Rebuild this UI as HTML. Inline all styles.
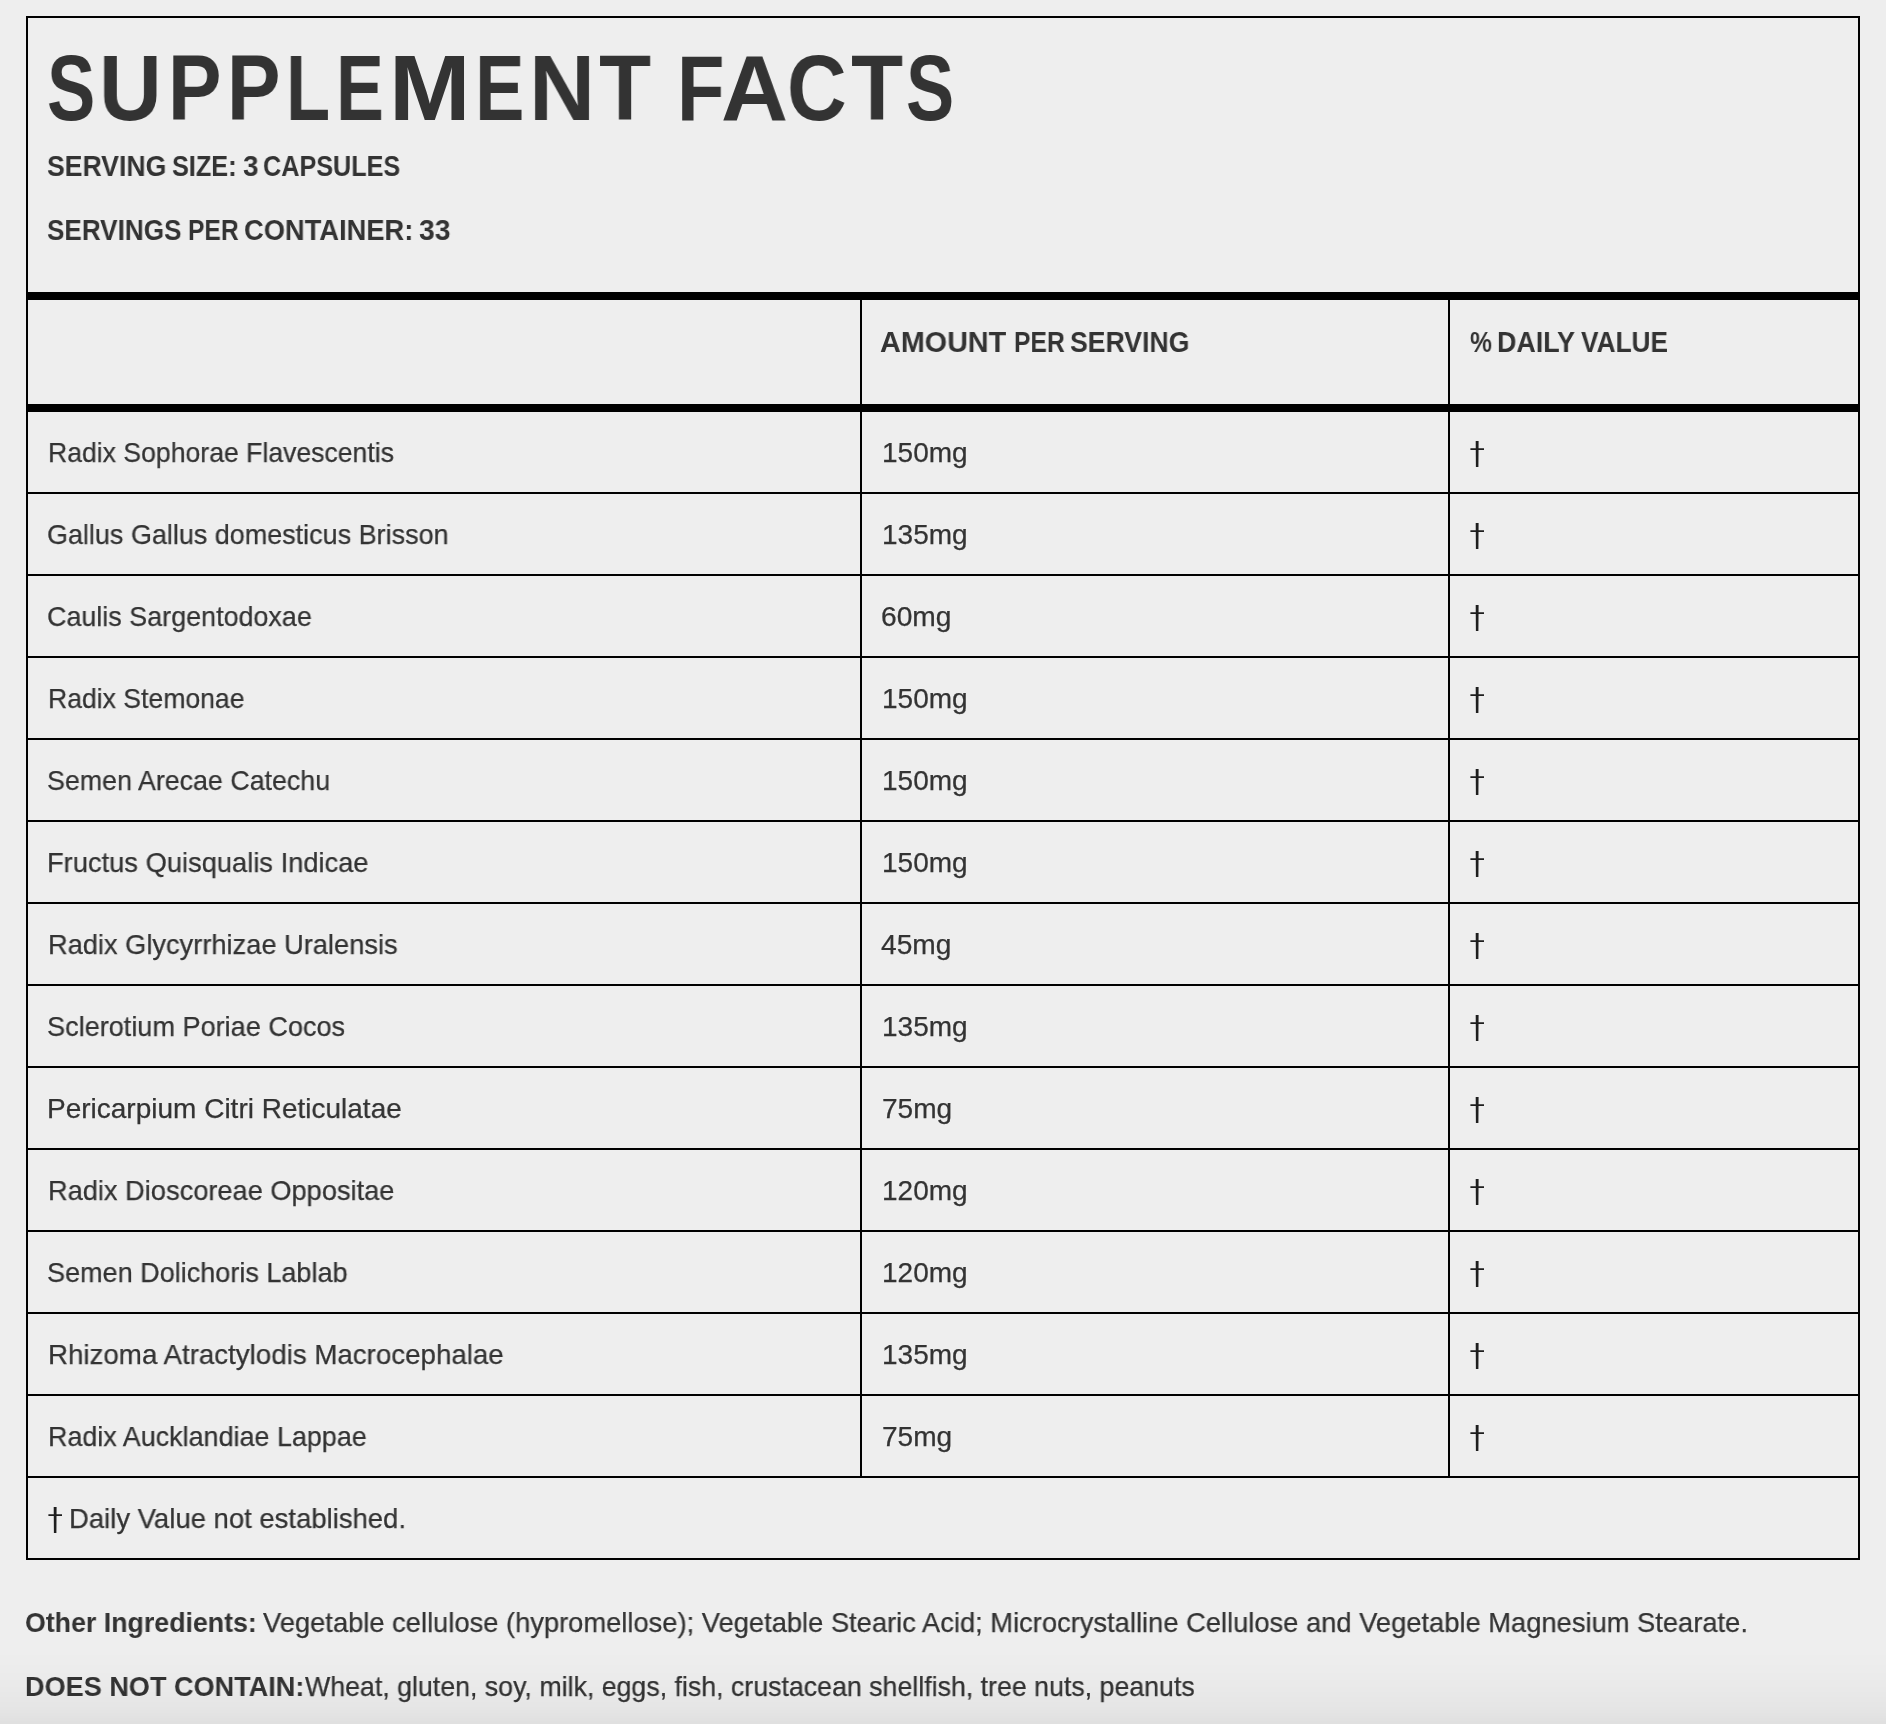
<!DOCTYPE html>
<html><head><meta charset="utf-8"><title>Supplement Facts</title>
<style>
html,body{margin:0;padding:0}
body{width:1886px;height:1724px;background:#eeeeee;position:relative;overflow:hidden;font-family:"Liberation Sans",sans-serif;color:#333333}
.t{position:absolute;white-space:nowrap;transform-origin:0 0;will-change:transform}
.k{position:absolute;background:#000}
.shade{position:absolute;left:0;top:1650px;width:1886px;height:74px;background:linear-gradient(to bottom,rgba(0,0,0,0) 0px,rgba(0,0,0,0.008) 20px,rgba(0,0,0,0.02) 40px,rgba(0,0,0,0.033) 55px,rgba(0,0,0,0.045) 65px,rgba(0,0,0,0.058) 74px)}
</style></head><body>
<div class="k" style="left:26px;top:16px;width:1834px;height:2px"></div>
<div class="k" style="left:26px;top:1558px;width:1834px;height:2px"></div>
<div class="k" style="left:26px;top:16px;width:2px;height:1544px"></div>
<div class="k" style="left:1858px;top:16px;width:2px;height:1544px"></div>
<div class="k" style="left:26px;top:292px;width:1834px;height:8px"></div>
<div class="k" style="left:26px;top:404px;width:1834px;height:8px"></div>
<div class="k" style="left:26px;top:492px;width:1834px;height:2px"></div>
<div class="k" style="left:26px;top:574px;width:1834px;height:2px"></div>
<div class="k" style="left:26px;top:656px;width:1834px;height:2px"></div>
<div class="k" style="left:26px;top:738px;width:1834px;height:2px"></div>
<div class="k" style="left:26px;top:820px;width:1834px;height:2px"></div>
<div class="k" style="left:26px;top:902px;width:1834px;height:2px"></div>
<div class="k" style="left:26px;top:984px;width:1834px;height:2px"></div>
<div class="k" style="left:26px;top:1066px;width:1834px;height:2px"></div>
<div class="k" style="left:26px;top:1148px;width:1834px;height:2px"></div>
<div class="k" style="left:26px;top:1230px;width:1834px;height:2px"></div>
<div class="k" style="left:26px;top:1312px;width:1834px;height:2px"></div>
<div class="k" style="left:26px;top:1394px;width:1834px;height:2px"></div>
<div class="k" style="left:26px;top:1476px;width:1834px;height:2px"></div>
<div class="k" style="left:860px;top:300px;width:2px;height:1178px"></div>
<div class="k" style="left:1448px;top:300px;width:2px;height:1178px"></div>
<div class="t" style="left:46.60px;top:42.00px;font-size:93.00px;line-height:93.00px;font-weight:700;transform:scaleX(0.7789)">S</div>
<div class="t" style="left:99.12px;top:42.00px;font-size:93.00px;line-height:93.00px;font-weight:700;transform:scaleX(0.9338)">U</div>
<div class="t" style="left:168.14px;top:42.00px;font-size:93.00px;line-height:93.00px;font-weight:700;transform:scaleX(0.8614)">P</div>
<div class="t" style="left:226.64px;top:42.00px;font-size:93.00px;line-height:93.00px;font-weight:700;transform:scaleX(0.8614)">P</div>
<div class="t" style="left:285.63px;top:42.00px;font-size:93.00px;line-height:93.00px;font-weight:700;transform:scaleX(0.7740)">L</div>
<div class="t" style="left:335.65px;top:42.00px;font-size:93.00px;line-height:93.00px;font-weight:700;transform:scaleX(0.7709)">E</div>
<div class="t" style="left:388.97px;top:42.00px;font-size:93.00px;line-height:93.00px;font-weight:700;transform:scaleX(1.0524)">M</div>
<div class="t" style="left:475.40px;top:42.00px;font-size:93.00px;line-height:93.00px;font-weight:700;transform:scaleX(0.7972)">E</div>
<div class="t" style="left:528.66px;top:42.00px;font-size:93.00px;line-height:93.00px;font-weight:700;transform:scaleX(0.9838)">N</div>
<div class="t" style="left:599.22px;top:42.00px;font-size:93.00px;line-height:93.00px;font-weight:700;transform:scaleX(0.9165)">T</div>
<div class="t" style="left:677.48px;top:42.00px;font-size:93.00px;line-height:93.00px;font-weight:700;transform:scaleX(0.8359)">F</div>
<div class="t" style="left:721.06px;top:42.00px;font-size:93.00px;line-height:93.00px;font-weight:700;transform:scaleX(0.9964)">A</div>
<div class="t" style="left:786.98px;top:42.00px;font-size:93.00px;line-height:93.00px;font-weight:700;transform:scaleX(0.8876)">C</div>
<div class="t" style="left:850.52px;top:42.00px;font-size:93.00px;line-height:93.00px;font-weight:700;transform:scaleX(0.9165)">T</div>
<div class="t" style="left:906.11px;top:42.00px;font-size:93.00px;line-height:93.00px;font-weight:700;transform:scaleX(0.7772)">S</div>
<div class="t" style="left:47.31px;top:152.00px;font-size:29.00px;line-height:29.00px;font-weight:700;transform:scaleX(0.9177)">SERVING</div>
<div class="t" style="left:172.44px;top:152.00px;font-size:29.00px;line-height:29.00px;font-weight:700;transform:scaleX(0.8711)">SIZE:</div>
<div class="t" style="left:242.50px;top:152.00px;font-size:29.00px;line-height:29.00px;font-weight:700;transform:scaleX(0.9614)">3</div>
<div class="t" style="left:263.34px;top:152.00px;font-size:29.00px;line-height:29.00px;font-weight:700;transform:scaleX(0.8692)">CAPSULES</div>
<div class="t" style="left:47.32px;top:216.00px;font-size:29.00px;line-height:29.00px;font-weight:700;transform:scaleX(0.9003)">SERVINGS</div>
<div class="t" style="left:187.86px;top:216.00px;font-size:29.00px;line-height:29.00px;font-weight:700;transform:scaleX(0.8497)">PER</div>
<div class="t" style="left:244.09px;top:216.00px;font-size:29.00px;line-height:29.00px;font-weight:700;transform:scaleX(0.9411)">CONTAINER:</div>
<div class="t" style="left:419.20px;top:216.00px;font-size:29.00px;line-height:29.00px;font-weight:700;transform:scaleX(0.9731)">33</div>
<div class="t" style="left:880.47px;top:328.00px;font-size:29.00px;line-height:29.00px;font-weight:700;transform:scaleX(0.9920)">AMOUNT</div>
<div class="t" style="left:1013.85px;top:328.00px;font-size:29.00px;line-height:29.00px;font-weight:700;transform:scaleX(0.8514)">PER</div>
<div class="t" style="left:1070.40px;top:328.00px;font-size:29.00px;line-height:29.00px;font-weight:700;transform:scaleX(0.9184)">SERVING</div>
<div class="t" style="left:1469.61px;top:328.00px;font-size:29.00px;line-height:29.00px;font-weight:700;transform:scaleX(0.8508)">%</div>
<div class="t" style="left:1497.15px;top:328.00px;font-size:29.00px;line-height:29.00px;font-weight:700;transform:scaleX(0.9241)">DAILY</div>
<div class="t" style="left:1581.47px;top:328.00px;font-size:29.00px;line-height:29.00px;font-weight:700;transform:scaleX(0.9052)">VALUE</div>
<div class="t" style="left:47.58px;top:439.00px;font-size:28.00px;line-height:28.00px;font-weight:400;transform:scaleX(0.9499);-webkit-text-stroke:0.25px #333333">Radix Sophorae Flavescentis</div>
<div class="t" style="left:882.42px;top:439.00px;font-size:28.00px;line-height:28.00px;font-weight:400;transform:scaleX(0.9996);-webkit-text-stroke:0.25px #333333">150mg</div>
<div class="t" style="left:47.25px;top:521.00px;font-size:28.00px;line-height:28.00px;font-weight:400;transform:scaleX(0.9627);-webkit-text-stroke:0.25px #333333">Gallus Gallus domesticus Brisson</div>
<div class="t" style="left:882.42px;top:521.00px;font-size:28.00px;line-height:28.00px;font-weight:400;transform:scaleX(0.9996);-webkit-text-stroke:0.25px #333333">135mg</div>
<div class="t" style="left:47.22px;top:603.00px;font-size:28.00px;line-height:28.00px;font-weight:400;transform:scaleX(0.9612);-webkit-text-stroke:0.25px #333333">Caulis Sargentodoxae</div>
<div class="t" style="left:881.20px;top:603.00px;font-size:28.00px;line-height:28.00px;font-weight:400;transform:scaleX(1.0064);-webkit-text-stroke:0.25px #333333">60mg</div>
<div class="t" style="left:47.58px;top:685.00px;font-size:28.00px;line-height:28.00px;font-weight:400;transform:scaleX(0.9493);-webkit-text-stroke:0.25px #333333">Radix Stemonae</div>
<div class="t" style="left:882.42px;top:685.00px;font-size:28.00px;line-height:28.00px;font-weight:400;transform:scaleX(0.9996);-webkit-text-stroke:0.25px #333333">150mg</div>
<div class="t" style="left:46.90px;top:767.00px;font-size:28.00px;line-height:28.00px;font-weight:400;transform:scaleX(0.9574);-webkit-text-stroke:0.25px #333333">Semen Arecae Catechu</div>
<div class="t" style="left:882.42px;top:767.00px;font-size:28.00px;line-height:28.00px;font-weight:400;transform:scaleX(0.9996);-webkit-text-stroke:0.25px #333333">150mg</div>
<div class="t" style="left:47.13px;top:849.00px;font-size:28.00px;line-height:28.00px;font-weight:400;transform:scaleX(0.9746);-webkit-text-stroke:0.25px #333333">Fructus Quisqualis Indicae</div>
<div class="t" style="left:882.42px;top:849.00px;font-size:28.00px;line-height:28.00px;font-weight:400;transform:scaleX(0.9996);-webkit-text-stroke:0.25px #333333">150mg</div>
<div class="t" style="left:47.54px;top:931.00px;font-size:28.00px;line-height:28.00px;font-weight:400;transform:scaleX(0.9726);-webkit-text-stroke:0.25px #333333">Radix Glycyrrhizae Uralensis</div>
<div class="t" style="left:881.30px;top:931.00px;font-size:28.00px;line-height:28.00px;font-weight:400;transform:scaleX(1.0051);-webkit-text-stroke:0.25px #333333">45mg</div>
<div class="t" style="left:46.89px;top:1013.00px;font-size:28.00px;line-height:28.00px;font-weight:400;transform:scaleX(0.9676);-webkit-text-stroke:0.25px #333333">Sclerotium Poriae Cocos</div>
<div class="t" style="left:882.42px;top:1013.00px;font-size:28.00px;line-height:28.00px;font-weight:400;transform:scaleX(0.9996);-webkit-text-stroke:0.25px #333333">135mg</div>
<div class="t" style="left:47.29px;top:1095.00px;font-size:28.00px;line-height:28.00px;font-weight:400;transform:scaleX(0.9997);-webkit-text-stroke:0.25px #333333">Pericarpium Citri Reticulatae</div>
<div class="t" style="left:881.52px;top:1095.00px;font-size:28.00px;line-height:28.00px;font-weight:400;transform:scaleX(1.0019);-webkit-text-stroke:0.25px #333333">75mg</div>
<div class="t" style="left:47.54px;top:1177.00px;font-size:28.00px;line-height:28.00px;font-weight:400;transform:scaleX(0.9720);-webkit-text-stroke:0.25px #333333">Radix Dioscoreae Oppositae</div>
<div class="t" style="left:882.42px;top:1177.00px;font-size:28.00px;line-height:28.00px;font-weight:400;transform:scaleX(0.9996);-webkit-text-stroke:0.25px #333333">120mg</div>
<div class="t" style="left:46.89px;top:1259.00px;font-size:28.00px;line-height:28.00px;font-weight:400;transform:scaleX(0.9654);-webkit-text-stroke:0.25px #333333">Semen Dolichoris Lablab</div>
<div class="t" style="left:882.42px;top:1259.00px;font-size:28.00px;line-height:28.00px;font-weight:400;transform:scaleX(0.9996);-webkit-text-stroke:0.25px #333333">120mg</div>
<div class="t" style="left:47.51px;top:1341.00px;font-size:28.00px;line-height:28.00px;font-weight:400;transform:scaleX(0.9893);-webkit-text-stroke:0.25px #333333">Rhizoma Atractylodis Macrocephalae</div>
<div class="t" style="left:882.42px;top:1341.00px;font-size:28.00px;line-height:28.00px;font-weight:400;transform:scaleX(0.9996);-webkit-text-stroke:0.25px #333333">135mg</div>
<div class="t" style="left:47.56px;top:1423.00px;font-size:28.00px;line-height:28.00px;font-weight:400;transform:scaleX(0.9613);-webkit-text-stroke:0.25px #333333">Radix Aucklandiae Lappae</div>
<div class="t" style="left:881.52px;top:1423.00px;font-size:28.00px;line-height:28.00px;font-weight:400;transform:scaleX(1.0019);-webkit-text-stroke:0.25px #333333">75mg</div>
<div class="t" style="left:68.92px;top:1505.00px;font-size:28.00px;line-height:28.00px;font-weight:400;transform:scaleX(0.9812);-webkit-text-stroke:0.25px #333333">Daily Value not established.</div>
<div class="t" style="left:25.00px;top:1609.00px;font-size:28.00px;line-height:28.00px;font-weight:700;transform:scaleX(0.9553)">Other Ingredients:</div>
<div class="t" style="left:262.60px;top:1609.00px;font-size:28.00px;line-height:28.00px;font-weight:400;transform:scaleX(0.9755);-webkit-text-stroke:0.25px #333333">Vegetable cellulose (hypromellose); Vegetable Stearic Acid; Microcrystalline Cellulose and Vegetable Magnesium Stearate.</div>
<div class="t" style="left:24.62px;top:1673.00px;font-size:28.00px;line-height:28.00px;font-weight:700;transform:scaleX(0.9672)">DOES NOT CONTAIN:</div>
<div class="t" style="left:304.59px;top:1673.00px;font-size:28.00px;line-height:28.00px;font-weight:400;transform:scaleX(0.9549);-webkit-text-stroke:0.25px #333333">Wheat, gluten, soy, milk, eggs, fish, crustacean shellfish, tree nuts, peanuts</div>
<svg style="position:absolute;left:1468px;top:441.00px" width="20" height="30" viewBox="0 0 20 30"><path d="M7.7 0H10.6L10.4 26H7.9Z M2.4 7.2H16V9H2.4Z" fill="#1e1e1e"/></svg>
<svg style="position:absolute;left:1468px;top:523.00px" width="20" height="30" viewBox="0 0 20 30"><path d="M7.7 0H10.6L10.4 26H7.9Z M2.4 7.2H16V9H2.4Z" fill="#1e1e1e"/></svg>
<svg style="position:absolute;left:1468px;top:605.00px" width="20" height="30" viewBox="0 0 20 30"><path d="M7.7 0H10.6L10.4 26H7.9Z M2.4 7.2H16V9H2.4Z" fill="#1e1e1e"/></svg>
<svg style="position:absolute;left:1468px;top:687.00px" width="20" height="30" viewBox="0 0 20 30"><path d="M7.7 0H10.6L10.4 26H7.9Z M2.4 7.2H16V9H2.4Z" fill="#1e1e1e"/></svg>
<svg style="position:absolute;left:1468px;top:769.00px" width="20" height="30" viewBox="0 0 20 30"><path d="M7.7 0H10.6L10.4 26H7.9Z M2.4 7.2H16V9H2.4Z" fill="#1e1e1e"/></svg>
<svg style="position:absolute;left:1468px;top:851.00px" width="20" height="30" viewBox="0 0 20 30"><path d="M7.7 0H10.6L10.4 26H7.9Z M2.4 7.2H16V9H2.4Z" fill="#1e1e1e"/></svg>
<svg style="position:absolute;left:1468px;top:933.00px" width="20" height="30" viewBox="0 0 20 30"><path d="M7.7 0H10.6L10.4 26H7.9Z M2.4 7.2H16V9H2.4Z" fill="#1e1e1e"/></svg>
<svg style="position:absolute;left:1468px;top:1015.00px" width="20" height="30" viewBox="0 0 20 30"><path d="M7.7 0H10.6L10.4 26H7.9Z M2.4 7.2H16V9H2.4Z" fill="#1e1e1e"/></svg>
<svg style="position:absolute;left:1468px;top:1097.00px" width="20" height="30" viewBox="0 0 20 30"><path d="M7.7 0H10.6L10.4 26H7.9Z M2.4 7.2H16V9H2.4Z" fill="#1e1e1e"/></svg>
<svg style="position:absolute;left:1468px;top:1179.00px" width="20" height="30" viewBox="0 0 20 30"><path d="M7.7 0H10.6L10.4 26H7.9Z M2.4 7.2H16V9H2.4Z" fill="#1e1e1e"/></svg>
<svg style="position:absolute;left:1468px;top:1261.00px" width="20" height="30" viewBox="0 0 20 30"><path d="M7.7 0H10.6L10.4 26H7.9Z M2.4 7.2H16V9H2.4Z" fill="#1e1e1e"/></svg>
<svg style="position:absolute;left:1468px;top:1343.00px" width="20" height="30" viewBox="0 0 20 30"><path d="M7.7 0H10.6L10.4 26H7.9Z M2.4 7.2H16V9H2.4Z" fill="#1e1e1e"/></svg>
<svg style="position:absolute;left:1468px;top:1425.00px" width="20" height="30" viewBox="0 0 20 30"><path d="M7.7 0H10.6L10.4 26H7.9Z M2.4 7.2H16V9H2.4Z" fill="#1e1e1e"/></svg>
<svg style="position:absolute;left:45.9px;top:1507.00px" width="20" height="30" viewBox="0 0 20 30"><path d="M7.7 0H10.6L10.4 26H7.9Z M2.4 7.2H16V9H2.4Z" fill="#1e1e1e"/></svg>
<div class="shade"></div>
</body></html>
